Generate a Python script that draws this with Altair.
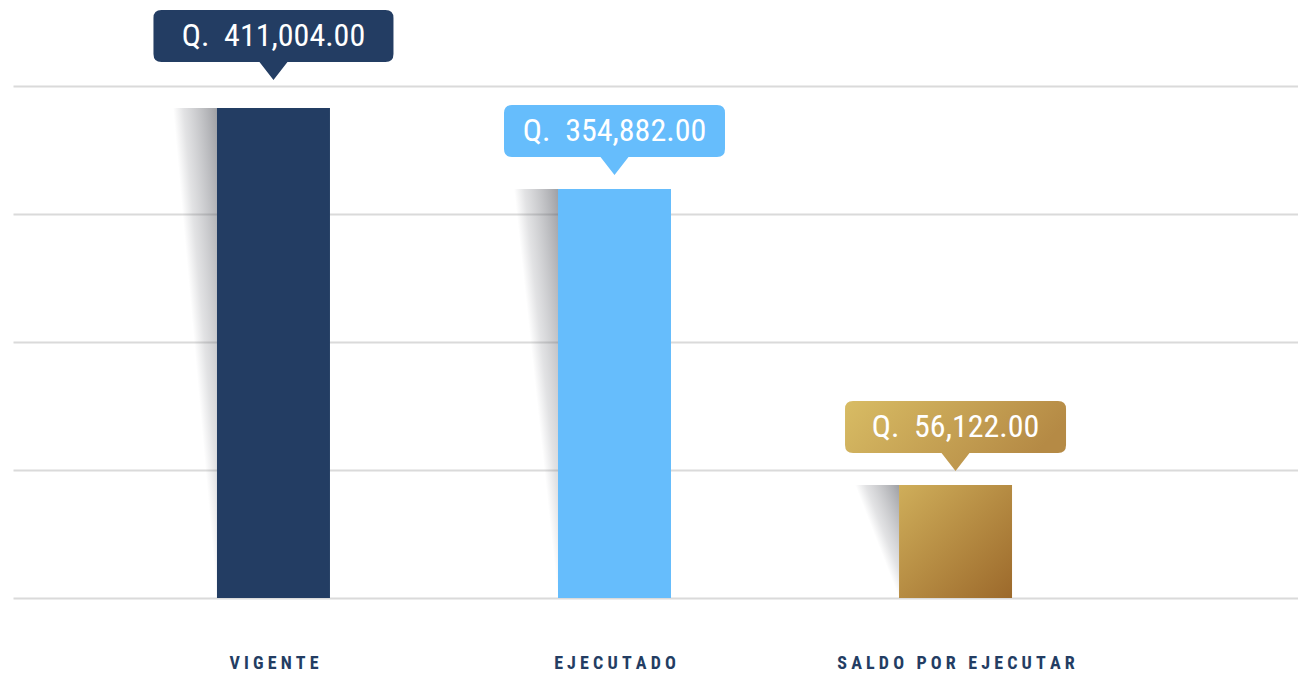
import altair as alt
import pandas as pd

# ---- data ----
categories = ["VIGENTE", "EJECUTADO", "SALDO POR EJECUTAR"]
amounts = [411004.00, 354882.00, 56122.00]
amount_labels = ["Q.\u00a0\u00a0411,004.00", "Q.\u00a0\u00a0354,882.00", "Q.\u00a0\u00a056,122.00"]
# bar heights as drawn, read against the gridlines (one grid step = 100,000)
bar_heights = [382800, 319500, 88300]
grid_values = [0, 100000, 200000, 300000, 400000]

df = pd.DataFrame({
    "categoria": categories,
    "monto": amounts,
    "etiqueta": amount_labels,
    "altura": bar_heights,
})

NAVY = "#233d63"
SKY = "#66bdfc"
FONT = "Roboto Condensed, Liberation Sans Narrow, DejaVu Sans Condensed, sans-serif"
BAR_W = 113
SHADOW_W = 44

xscale = alt.Scale(type="point", padding=0.884, align=0.432)
yscale = alt.Scale(domain=[0, 400000], nice=False, zero=True)

xaxis = alt.Axis(
    title=None, domain=False, ticks=False, grid=False, labelAngle=0,
    labelExpr="join(split(datum.label, ''), '\u00a0')",
    labelFont=FONT, labelFontSize=18, labelFontWeight="bold", labelLimit=0,
    labelColor=NAVY, labelPadding=56, labelBaseline="top",
)
yaxis = alt.Axis(
    title=None, domain=False, ticks=False, labels=False, grid=True,
    values=grid_values, gridColor="#dadada", gridWidth=2,
)

base = alt.Chart(df).encode(
    x=alt.X("categoria:N", sort=categories, scale=xscale, axis=xaxis),
)

shadow_grad = alt.LinearGradient(
    gradient="linear", x1=0, y1=1, x2=1, y2=0,
    stops=[
        alt.GradientStop(color="rgba(255,255,255,0)", offset=0),
        alt.GradientStop(color="rgba(110,112,120,0)", offset=0.5),
        alt.GradientStop(color="rgba(110,112,120,0.2)", offset=0.62),
        alt.GradientStop(color="rgba(80,82,90,0.55)", offset=1),
    ],
)
shadow = base.mark_bar(
    width=SHADOW_W, xOffset=-(BAR_W / 2 + SHADOW_W / 2), color=shadow_grad
).encode(y=alt.Y("altura:Q", scale=yscale, axis=yaxis))

solid_bars = base.transform_filter(
    alt.FieldOneOfPredicate(field="categoria", oneOf=categories[:2])
).mark_bar(width=BAR_W).encode(
    y=alt.Y("altura:Q", scale=yscale, axis=yaxis),
    color=alt.Color("categoria:N", scale=alt.Scale(domain=categories[:2], range=[NAVY, SKY]), legend=None),
)

gold_bar_grad = alt.LinearGradient(
    gradient="linear", x1=0, y1=0, x2=1, y2=1,
    stops=[
        alt.GradientStop(color="#cfae5a", offset=0),
        alt.GradientStop(color="#9c692b", offset=1),
    ],
)
gold_bar = base.transform_filter(
    alt.datum.categoria == categories[2]
).mark_bar(width=BAR_W, color=gold_bar_grad).encode(
    y=alt.Y("altura:Q", scale=yscale, axis=yaxis),
)

gold_box_grad = alt.LinearGradient(
    gradient="linear", x1=0, y1=0, x2=1, y2=0.3,
    stops=[
        alt.GradientStop(color="#d8bc64", offset=0),
        alt.GradientStop(color="#b58a45", offset=1),
    ],
)


def callout_path(w, h=52, ph=18, pw=14, r=8, unit=200.0):
    """Rounded box with a downward pointer; tip at the symbol origin."""
    hw = w / 2
    yb = -ph
    yt = -ph - h
    pts = [
        "M 0 0",
        f"L {-pw} {yb}",
        f"L {-hw + r} {yb}",
        f"Q {-hw} {yb} {-hw} {yb - r}",
        f"L {-hw} {yt + r}",
        f"Q {-hw} {yt} {-hw + r} {yt}",
        f"L {hw - r} {yt}",
        f"Q {hw} {yt} {hw} {yt + r}",
        f"L {hw} {yb - r}",
        f"Q {hw} {yb} {hw - r} {yb}",
        f"L {pw} {yb}",
        "Z",
    ]
    out = []
    for p in pts:
        parts = p.split()
        cmd = parts[0]
        nums = [f"{float(v) / unit:.4f}" for v in parts[1:]]
        out.append(" ".join([cmd] + nums))
    return " ".join(out), unit * unit * 4


callout_specs = [
    (categories[0], NAVY, 240, 28),
    (categories[1], SKY, 221, 14),
    (categories[2], gold_box_grad, 221, 14),
]

callouts = []
for cat, fill, w, off in callout_specs:
    path, size = callout_path(w)
    sub = base.transform_filter(alt.datum.categoria == cat)
    box = sub.mark_point(
        shape=path, size=size, filled=True, color=fill, opacity=1,
        strokeWidth=0, yOffset=-off,
    ).encode(y=alt.Y("altura:Q", scale=yscale, axis=yaxis))
    txt = sub.mark_text(
        font=FONT, fontSize=32, color="white", baseline="middle",
        align="center", yOffset=-(off + 18 + 26),
    ).encode(y=alt.Y("altura:Q", scale=yscale, axis=yaxis), text="etiqueta:N")
    callouts += [box, txt]

chart = alt.layer(shadow, solid_bars, gold_bar, *callouts).properties(
    width=1285, height=512,
    autosize=alt.AutoSizeParams(type="none"),
    padding={"left": 5, "top": 78, "right": 0, "bottom": 80},
    background="white",
).configure_view(stroke=None)

chart.save("out.html", embed_options={"renderer": "svg", "actions": False})
